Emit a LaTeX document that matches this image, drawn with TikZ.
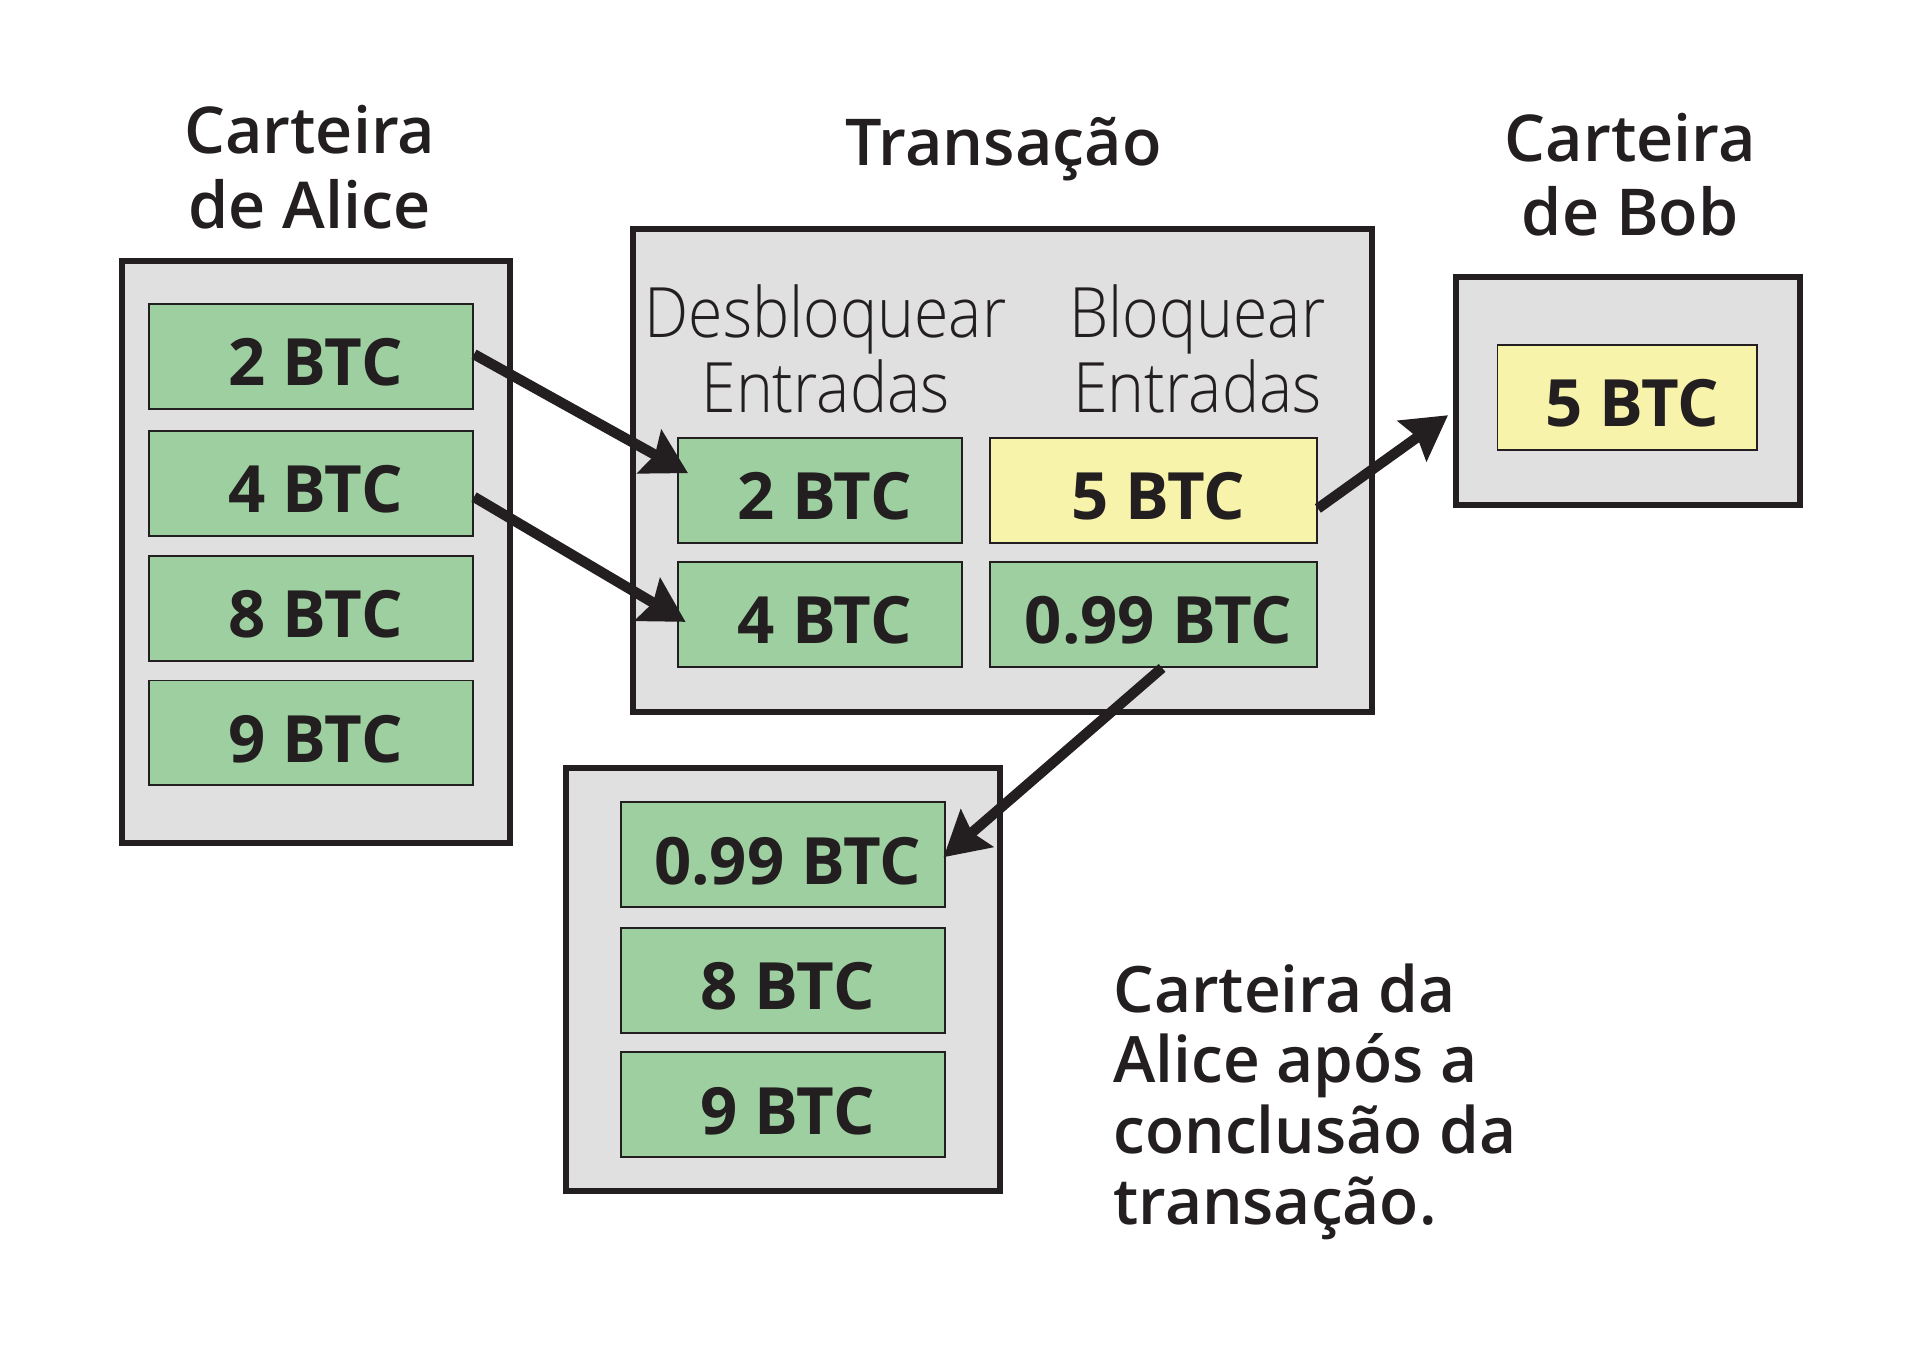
\documentclass[tikz,border=0pt]{standalone}
\usepackage{fontspec}
\setmainfont{Open Sans}
\IfFontExistsTF{Open Sans SemiBold}{\newfontfamily\semib{Open Sans SemiBold}}{%
  \IfFontExistsTF{Open Sans Semibold}{\newfontfamily\semib{Open Sans Semibold}}{%
    \newfontfamily\semib[FakeBold=2]{Open Sans}}}
\IfFontExistsTF{Open Sans Light}{\newfontfamily\lightc[FakeStretch=0.9]{Open Sans Light}}{%
  \newfontfamily\lightc[FakeStretch=0.87]{Open Sans}}
\newfontfamily\btcfont{Open Sans}
\usetikzlibrary{arrows.meta,calc}
\definecolor{ink}{RGB}{35,31,32}
\definecolor{boxgray}{RGB}{224,224,224}
\definecolor{coingreen}{RGB}{158,207,160}
\definecolor{coinyellow}{RGB}{247,243,170}
\tikzset{
  wallet/.style={draw=ink, fill=boxgray, line width=5pt},
  coin/.style={draw=ink, fill=coingreen, line width=1.5pt, minimum width=266pt, minimum height=86pt, inner sep=0pt,
    text height=48pt, text depth=0pt,
    font=\btcfont\fontsize{53.5}{60}\selectfont\bfseries, text=ink},
  ycoin/.style={coin, fill=coinyellow},
  title/.style={font=\semib\fontsize{53}{61}\selectfont, text=ink, align=center, inner sep=0pt},
  colhead/.style={font=\lightc\fontsize{57}{61}\selectfont, text=ink, align=center, inner sep=0pt},
  flow/.style={draw=ink, line width=8.5pt, -{Stealth[length=36pt, width=40pt, inset=5pt]}}
}
\newcommand{\lbl}[1]{\hspace*{8pt}#1}
\begin{document}
\begin{tikzpicture}[x=1pt,y=-1pt]
\useasboundingbox (0,0) rectangle (1568,1103);
\fill[white] (0,0) rectangle (1568,1103);
% Alice wallet
\node[title] (talice) at (254,137) {Carteira\\de Alice};
\node[wallet, minimum width=318pt, minimum height=477pt, inner sep=0pt] (alice) at (259,452.5) {};
\node[coin] (a2) at (255,292.5) {\lbl{2 BTC}};
\node[coin] (a4) at (255,396.5) {\lbl{4 BTC}};
\node[coin] (a8) at (255,499) {\lbl{8 BTC}};
\node[coin] (a9) at (255,601) {\lbl{9 BTC}};
% Transaction
\node[title] (ttx) at (823,122) {Transação};
\node[wallet, minimum width=606pt, minimum height=396pt, inner sep=0pt] (tx) at (822,386) {};
\node[colhead] (hunlock) at (677,286) {Desbloquear\\Entradas};
\node[colhead] (hlock) at (982,286) {Bloquear\\Entradas};
\node[coin, minimum width=233pt] (t2) at (672.5,402) {\lbl{2 BTC}};
\node[coin, minimum width=233pt] (t4) at (672.5,504) {\lbl{4 BTC}};
\node[ycoin, minimum width=268pt] (t5) at (946,402) {\lbl{5 BTC}};
\node[coin, minimum width=268pt] (t099) at (946,504) {\lbl{0.99 BTC}};
% Bob wallet
\node[title] (tbob) at (1337,143) {Carteira\\de Bob};
\node[wallet, minimum width=282pt, minimum height=187pt, inner sep=0pt] (bob) at (1335,320.5) {};
\node[ycoin, minimum width=213pt] (b5) at (1334.5,326) {\lbl{5 BTC}};
% Alice after
\node[wallet, minimum width=356pt, minimum height=347pt, inner sep=0pt] (after) at (642,803.5) {};
\node[coin] (c099) at (642,701) {\lbl{0.99 BTC}};
\node[coin] (c8) at (642,804) {\lbl{8 BTC}};
\node[coin] (c9) at (642,906) {\lbl{9 BTC}};
\node[title, align=left, anchor=north west, font=\semib\fontsize{52.5}{58}\selectfont] (caption) at (913,790)
  {Carteira da\\Alice após a\\conclusão da\\transação.};
% arrows
\draw[flow] ($(a2.east)+(0,-2)$) -- ($(t2.west)+(9,-14)$);
\draw[flow] ($(a4.east)+(0,11)$) -- ($(t4.west)+(7,6)$);
\draw[flow] ($(t5.east)+(0,15)$) -- ($(bob.west)+(-4,20)$);
\draw[flow] ($(t099.south)+(7,0)$) -- ($(c099.east)+(-2,2)$);
\end{tikzpicture}
\end{document}
